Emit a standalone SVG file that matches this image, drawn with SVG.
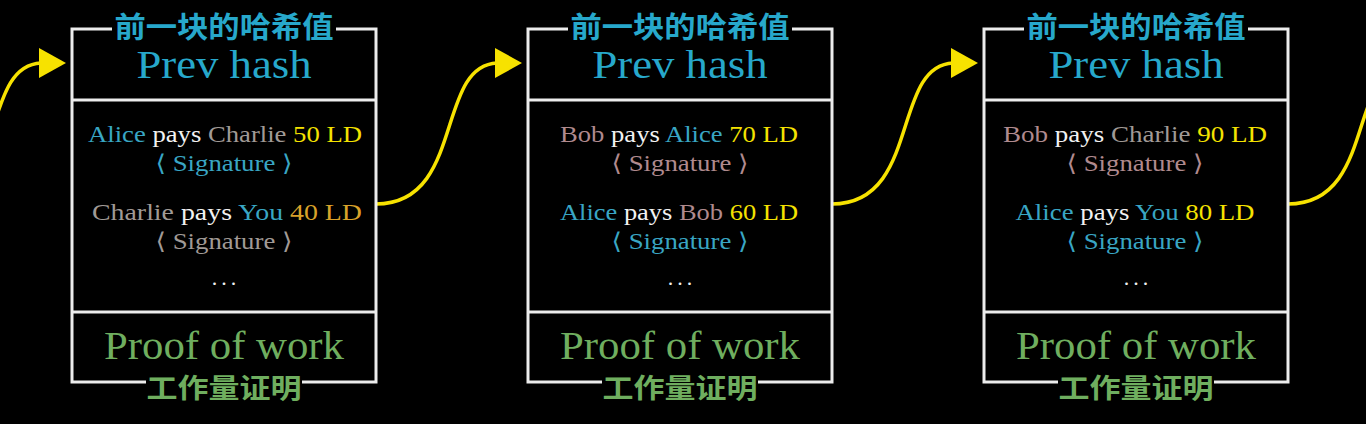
<svg xmlns="http://www.w3.org/2000/svg" width="1366" height="424" viewBox="0 0 1366 424">
<defs>
<style>
.frame{fill:none;stroke:#ececec;stroke-width:3}
.cn{font-family:"Noto Sans CJK SC",sans-serif;font-weight:700;font-size:29px;text-anchor:middle}
.cnb{font-family:"Noto Sans CJK SC",sans-serif;font-weight:700;font-size:27px;text-anchor:middle}
.big{font-family:"Liberation Serif","DejaVu Serif",serif;font-size:40px;text-anchor:middle}
.tx{font-family:"Liberation Serif","DejaVu Serif",serif;font-size:23px;text-anchor:middle}
.dots{font-family:"Liberation Serif",serif;font-size:22px;text-anchor:middle;fill:#f0f0f0;letter-spacing:4px}
.cyan{fill:#27a8cb}
.green{fill:#6fae5f}
.al{fill:#39a6c4}
.ch{fill:#a09a96}
.bo{fill:#b08a8e}
.w{fill:#f2f2f2}
.ld{fill:#f4e200}
.or{fill:#d9a22a}
.conn{fill:none;stroke:#f7e200;stroke-width:3.5}
</style>
<marker id="ah" viewBox="0 0 27 30" refX="2" refY="15" markerWidth="27" markerHeight="30" markerUnits="userSpaceOnUse" orient="0">
<path d="M0,0 L27,15 L0,30 Z" fill="#f7e200"/>
</marker>
</defs>
<rect width="1366" height="424" fill="#000"/>

<g id="connectors">
<path class="conn" d="M-80,204 C9,204 -21,66 41,63" marker-end="url(#ah)"/>
<path class="conn" d="M376,204 C465,204 435,66 497,63" marker-end="url(#ah)"/>
<path class="conn" d="M832,204 C921,204 891,66 953,63" marker-end="url(#ah)"/>
<path class="conn" d="M1288,204 C1377,204 1347,66 1409,63"/>
</g>

<g id="block1">
<path class="frame" d="M112,29 H72 V382 H146 M302,382 H376 V29 H336"/>
<path class="frame" d="M72,100 H376 M72,312 H376"/>
<text class="cn cyan" x="224" y="38" textLength="219" lengthAdjust="spacingAndGlyphs">前一块的哈希值</text>
<text class="big cyan" x="224" y="78" textLength="175" lengthAdjust="spacingAndGlyphs">Prev hash</text>
<text class="tx" x="225" y="142" textLength="274" lengthAdjust="spacingAndGlyphs"><tspan class="al">Alice</tspan><tspan class="w"> pays </tspan><tspan class="ch">Charlie</tspan><tspan class="ld"> 50 LD</tspan></text>
<text class="tx al" x="224" y="171" textLength="137" lengthAdjust="spacingAndGlyphs">⟨ Signature ⟩</text>
<text class="tx" x="227" y="220" textLength="270" lengthAdjust="spacingAndGlyphs"><tspan class="ch">Charlie</tspan><tspan class="w"> pays </tspan><tspan class="al">You</tspan><tspan class="or"> 40 LD</tspan></text>
<text class="tx ch" x="224" y="249" textLength="137" lengthAdjust="spacingAndGlyphs">⟨ Signature ⟩</text>
<text class="dots" x="226" y="285">...</text>
<text class="big green" x="224" y="359" textLength="240" lengthAdjust="spacingAndGlyphs">Proof of work</text>
<text class="cnb green" x="224" y="398" textLength="155" lengthAdjust="spacingAndGlyphs">工作量证明</text>
</g>

<g id="block2">
<path class="frame" d="M568,29 H528 V382 H602 M758,382 H832 V29 H792"/>
<path class="frame" d="M528,100 H832 M528,312 H832"/>
<text class="cn cyan" x="680" y="38" textLength="219" lengthAdjust="spacingAndGlyphs">前一块的哈希值</text>
<text class="big cyan" x="680" y="78" textLength="175" lengthAdjust="spacingAndGlyphs">Prev hash</text>
<text class="tx" x="679" y="142" textLength="238" lengthAdjust="spacingAndGlyphs"><tspan class="bo">Bob</tspan><tspan class="w"> pays </tspan><tspan class="al">Alice</tspan><tspan class="ld"> 70 LD</tspan></text>
<text class="tx bo" x="680" y="171" textLength="137" lengthAdjust="spacingAndGlyphs">⟨ Signature ⟩</text>
<text class="tx" x="679" y="220" textLength="238" lengthAdjust="spacingAndGlyphs"><tspan class="al">Alice</tspan><tspan class="w"> pays </tspan><tspan class="bo">Bob</tspan><tspan class="ld"> 60 LD</tspan></text>
<text class="tx al" x="680" y="249" textLength="137" lengthAdjust="spacingAndGlyphs">⟨ Signature ⟩</text>
<text class="dots" x="682" y="285">...</text>
<text class="big green" x="680" y="359" textLength="240" lengthAdjust="spacingAndGlyphs">Proof of work</text>
<text class="cnb green" x="680" y="398" textLength="155" lengthAdjust="spacingAndGlyphs">工作量证明</text>
</g>

<g id="block3">
<path class="frame" d="M1024,29 H984 V382 H1058 M1214,382 H1288 V29 H1248"/>
<path class="frame" d="M984,100 H1288 M984,312 H1288"/>
<text class="cn cyan" x="1136" y="38" textLength="219" lengthAdjust="spacingAndGlyphs">前一块的哈希值</text>
<text class="big cyan" x="1136" y="78" textLength="175" lengthAdjust="spacingAndGlyphs">Prev hash</text>
<text class="tx" x="1135" y="142" textLength="264" lengthAdjust="spacingAndGlyphs"><tspan class="bo">Bob</tspan><tspan class="w"> pays </tspan><tspan class="ch">Charlie</tspan><tspan class="ld"> 90 LD</tspan></text>
<text class="tx bo" x="1135" y="171" textLength="137" lengthAdjust="spacingAndGlyphs">⟨ Signature ⟩</text>
<text class="tx" x="1135" y="220" textLength="239" lengthAdjust="spacingAndGlyphs"><tspan class="al">Alice</tspan><tspan class="w"> pays </tspan><tspan class="al">You</tspan><tspan class="ld"> 80 LD</tspan></text>
<text class="tx al" x="1135" y="249" textLength="137" lengthAdjust="spacingAndGlyphs">⟨ Signature ⟩</text>
<text class="dots" x="1138" y="285">...</text>
<text class="big green" x="1136" y="359" textLength="240" lengthAdjust="spacingAndGlyphs">Proof of work</text>
<text class="cnb green" x="1136" y="398" textLength="155" lengthAdjust="spacingAndGlyphs">工作量证明</text>
</g>
</svg>
